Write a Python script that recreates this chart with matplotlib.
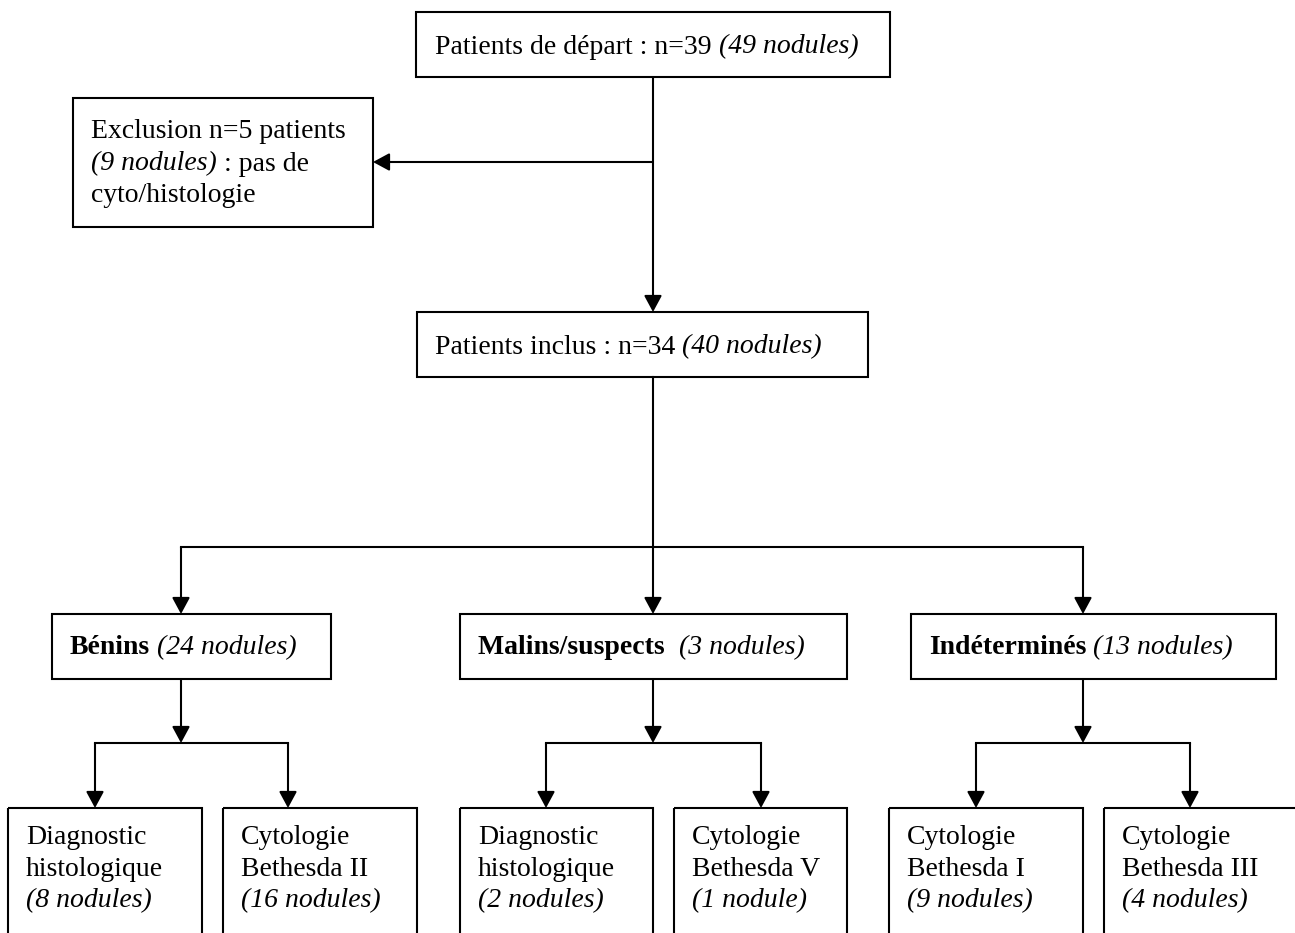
import matplotlib
matplotlib.use("Agg")
import matplotlib.pyplot as plt
from matplotlib.patches import Rectangle

'''
data of the flow chart
'''
start_label = "Patients de départ : n=39"
start_nodules = 49
excl_patients = 5
excl_nodules = 9
incl_label = "Patients inclus : n=34"
incl_nodules = 40
groups = ["Bénins", "Malins/suspects ", "Indéterminés"]
group_nodules = [24, 3, 13]
sub_labels = [["Diagnostic\nhistologique", "Cytologie\nBethesda II"],
              ["Diagnostic\nhistologique", "Cytologie\nBethesda V"],
              ["Cytologie\nBethesda I", "Cytologie\nBethesda III"]]
sub_nodules = [[8, 16], [2, 1], [9, 4]]

'''
canvas in pixel units
'''
fig = plt.figure(figsize=(12.95, 9.33), dpi=100)
ax = fig.add_axes([0, 0, 1, 1])
ax.set_xlim(0, 1295)
ax.set_ylim(933, 0)
ax.axis("off")

FONT = dict(family="Liberation Serif", size=20, color="black")
LW = 1.5
DY = 3  # text sits a bit lower than its bbox centre


def nod(n):
    return "(%d nodule%s)" % (n, "" if n == 1 else "s")


def box(x0, y0, x1, y1):
    ax.add_patch(Rectangle((x0, y0), x1 - x0, y1 - y0, fill=False,
                           edgecolor="black", linewidth=LW, clip_on=False))


def arrow(x0, y0, x1, y1):
    ax.annotate("", xy=(x1, y1), xytext=(x0, y0),
                arrowprops=dict(arrowstyle="-|>,head_length=0.5,head_width=0.27",
                                mutation_scale=20, color="black", lw=LW,
                                shrinkA=0, shrinkB=0))


def line(xs, ys):
    ax.plot(xs, ys, color="black", lw=LW, solid_capstyle="projecting")


def runs(x, y, parts):
    # parts: list of (text, weight, style) drawn one after the other
    s, w, st = parts[0]
    t = ax.text(x, y + DY, s, ha="left", va="center", fontweight=w, fontstyle=st, **FONT)
    for s, w, st in parts[1:]:
        t = ax.annotate(s, xy=(1, 0), xycoords=t, ha="left", va="bottom",
                        fontweight=w, fontstyle=st, **FONT)


'''
top part
'''
box(416, 12, 890, 77)
runs(435, 44, [(start_label, "normal", "normal"), (" " + nod(start_nodules), "normal", "italic")])
arrow(653, 77, 653, 312)
arrow(653, 162, 373, 162)

box(73, 98, 373, 227)
runs(91, 129, [("Exclusion n=%d patients" % excl_patients, "normal", "normal")])
runs(91, 161, [(nod(excl_nodules), "normal", "italic"), (" : pas de", "normal", "normal")])
runs(91, 193, [("cyto/histologie", "normal", "normal")])

box(417, 312, 868, 377)
runs(435, 344, [(incl_label, "normal", "normal"), (" " + nod(incl_nodules), "normal", "italic")])

'''
groups
'''
group_box = [(52, 331), (460, 847), (911, 1276)]
group_cx = [181, 653, 1083]
sub_boxes = [[(8, 202), (223, 417)], [(460, 653), (674, 847)], [(889, 1083), (1104, 1310)]]
sub_cx = [[95, 288], [546, 761], [976, 1190]]

line([653, 653], [377, 547])
line([group_cx[0], group_cx[-1]], [547, 547])
for i, g in enumerate(groups):
    cx = group_cx[i]
    arrow(cx, 547, cx, 614)
    x0, x1 = group_box[i]
    box(x0, 614, x1, 679)
    runs(x0 + 18, 645, [(g, "bold", "normal"), (" " + nod(group_nodules[i]), "normal", "italic")])
    arrow(cx, 679, cx, 743)
    line([sub_cx[i][0], sub_cx[i][1]], [743, 743])
    for j in range(2):
        sx = sub_cx[i][j]
        arrow(sx, 743, sx, 808)
        bx0, bx1 = sub_boxes[i][j]
        box(bx0, 808, bx1, 960)
        l1, l2 = sub_labels[i][j].split("\n")
        runs(bx0 + 18, 834, [(l1, "normal", "normal")])
        runs(bx0 + 18, 866, [(l2, "normal", "normal")])
        runs(bx0 + 18, 898, [(nod(sub_nodules[i][j]), "normal", "italic")])

plt.savefig("out.png", dpi=100)
